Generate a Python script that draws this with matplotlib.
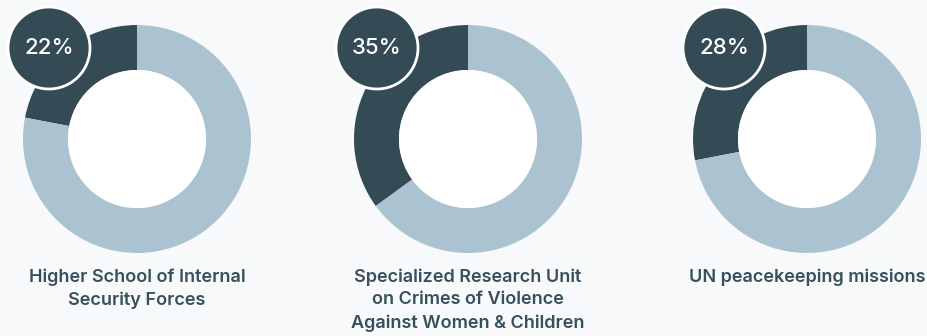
import matplotlib
matplotlib.use("Agg")
import matplotlib.pyplot as plt
from matplotlib.patches import Circle

categories = ["Higher School of Internal\nSecurity Forces",
              "Specialized Research Unit\non Crimes of Violence\nAgainst Women & Children",
              "UN peacekeeping missions"]
shares = [22, 35, 28]
pct_labels = ["22%", "35%", "28%"]

DARK = "#344b55"
LIGHT = "#abc3d0"
BG = "#f7f9fa"
TEXT = "#37505b"

W, H = 928, 336
fig = plt.figure(figsize=(W / 100, H / 100), dpi=100, facecolor=BG)
ax = fig.add_axes([0, 0, 1, 1])
ax.set_xlim(0, W)
ax.set_ylim(0, H)
ax.set_aspect("equal")
ax.axis("off")
ax.set_facecolor(BG)

centers_x = [137, 468, 807]
center_y = H - 139
R_out, R_in = 114, 69
bubble_xy = [(49, 48), (377, 48), (724, 48)]

for i, (cat, v, pl) in enumerate(zip(categories, shares, pct_labels)):
    cx = centers_x[i]
    ax.pie([v, 100 - v], colors=[DARK, LIGHT], startangle=90, counterclock=True,
           center=(cx, center_y), radius=R_out, frame=True,
           wedgeprops=dict(width=R_out - R_in, linewidth=0))
    ax.add_patch(Circle((cx, center_y), R_in, facecolor="white", edgecolor="none", zorder=3))
    bx, by = bubble_xy[i]
    ax.add_patch(Circle((bx, H - by), 41, facecolor=DARK, edgecolor="white", linewidth=2, zorder=5))
    ax.text(bx, H - by, pl, color="white", fontsize=16, family="Inter", fontweight="medium",
            ha="center", va="center", zorder=6)
    ax.text(cx, H - 268, cat, color=TEXT, fontsize=13, family="Inter", fontweight="semibold",
            ha="center", va="top", linespacing=1.45)

ax.set_xlim(0, W)
ax.set_ylim(0, H)
ax.axis("off")
fig.savefig("out.png", dpi=100, facecolor=BG)
